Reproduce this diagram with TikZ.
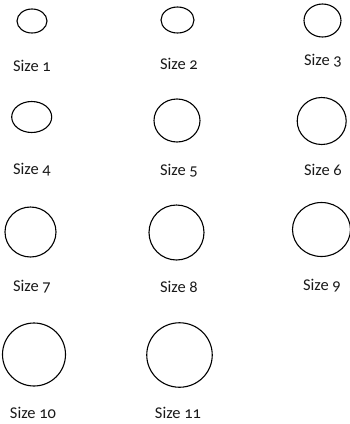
\documentclass[tikz,border=0pt]{standalone}
\usepackage{fontspec}
\setmainfont[Numbers=OldStyle]{Carlito}
\usetikzlibrary{shapes.geometric}
\tikzset{
  blob/.style={draw=black, line width=1.1bp, shape=ellipse, inner sep=0pt, fill=white},
  lbl/.style={font=\fontsize{16.5}{19}\selectfont, inner sep=0pt, text=black!90}
}
\begin{document}
\begin{tikzpicture}[x=1bp,y=-1bp]
\useasboundingbox (0,0) rectangle (350,424);
% row 1
\node[blob, minimum width=30bp, minimum height=24bp] (e1) at (32,21) {};
\node[blob, minimum width=33bp, minimum height=26bp] (e2) at (177.5,20) {};
\node[blob, minimum width=37bp, minimum height=33bp] (e3) at (322.5,20.5) {};
\node[lbl] (t1) at (32,66) {Size 1};
\node[lbl] (t2) at (179,64) {Size 2};
\node[lbl] (t3) at (323,61) {Size 3};
% row 2
\node[blob, minimum width=40bp, minimum height=31bp] (e4) at (31.7,117) {};
\node[blob, minimum width=46bp, minimum height=43bp] (e5) at (177,120.5) {};
\node[blob, minimum width=49bp, minimum height=47bp] (e6) at (321.7,121) {};
\node[lbl] (t4) at (32,170) {Size 4};
\node[lbl] (t5) at (179,171) {Size 5};
\node[lbl] (t6) at (323,170) {Size 6};
% row 3
\node[blob, minimum width=51bp, minimum height=50bp] (e7) at (30.5,232) {};
\node[blob, minimum width=55bp, minimum height=55bp] (e8) at (176.5,232.5) {};
\node[blob, minimum width=58bp, minimum height=54bp] (e9) at (321.5,229.5) {};
\node[lbl] (t7) at (32,287) {Size 7};
\node[lbl] (t8) at (179,287) {Size 8};
\node[lbl] (t9) at (322,286) {Size 9};
% row 4
\node[blob, minimum width=63bp, minimum height=63bp] (e10) at (34,354.5) {};
\node[blob, minimum width=65.5bp, minimum height=64.5bp] (e11) at (179.5,355) {};
\node[lbl] (t10) at (33,413) {Size 10};
\node[lbl] (t11) at (178,413) {Size 11};
\end{tikzpicture}
\end{document}
